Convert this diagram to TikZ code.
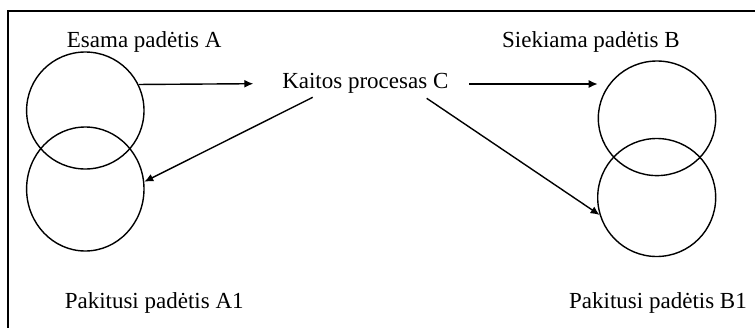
\documentclass[tikz,border=0pt]{standalone}
\usepackage{fontspec}
\setmainfont{Liberation Serif}
\usetikzlibrary{arrows.meta,shapes.geometric}
\begin{document}
\begin{tikzpicture}[x=1pt,y=-1pt,
  label/.style={anchor=base,inner sep=0pt,font=\fontsize{23}{27}\selectfont},
  state/.style={draw,ellipse,line width=1.4pt,inner sep=0pt},
  arr/.style={line width=1.4pt,-{Latex[length=9pt,width=8pt]}}]
\useasboundingbox (0,0) rectangle (755,327);
\clip (0,0) rectangle (755,327);
% open frame (top and left sides)
\draw[line width=2.2pt] (8,340) -- (8,11) -- (770,11);

% states
\node[state,minimum width=117.4pt,minimum height=117pt] (A)  at (85.3,110.5) {};
\node[state,minimum width=117.4pt,minimum height=124pt] (A1) at (85.3,189) {};
\node[state,minimum width=117.4pt,minimum height=114.6pt] (B)  at (657,118.3) {};
\node[state,minimum width=118pt,minimum height=118pt] (B1) at (656.7,197.5) {};

% labels
\node[label] (tA)  at (144.2,47.3) {Esama padėtis A};
\node[label] (tB)  at (590.9,47.3) {Siekiama padėtis B};
\node[label] (C)   at (365.3,88.3) {Kaitos procesas C};
\node[label] (tA1) at (154.2,308.3) {Pakitusi padėtis A1};
\node[label] (tB1) at (658,308.3) {Pakitusi padėtis B1};

% arrow ports around the process label
\coordinate (cInL)  at (253.3,83.7);
\coordinate (cOutR) at (469,84);
\coordinate (cBin)  at (597.7,84);
\coordinate (cOutL) at (312.7,97.3);
\coordinate (cOutD) at (426.7,98.3);

% connectors
\draw[arr] (A.26) -- (cInL);
\draw[arr] (cOutR) -- (cBin);
\draw[arr] (cOutL) -- (A1.7);
\draw[arr] (cOutD) -- (B1.197);
\end{tikzpicture}
\end{document}
